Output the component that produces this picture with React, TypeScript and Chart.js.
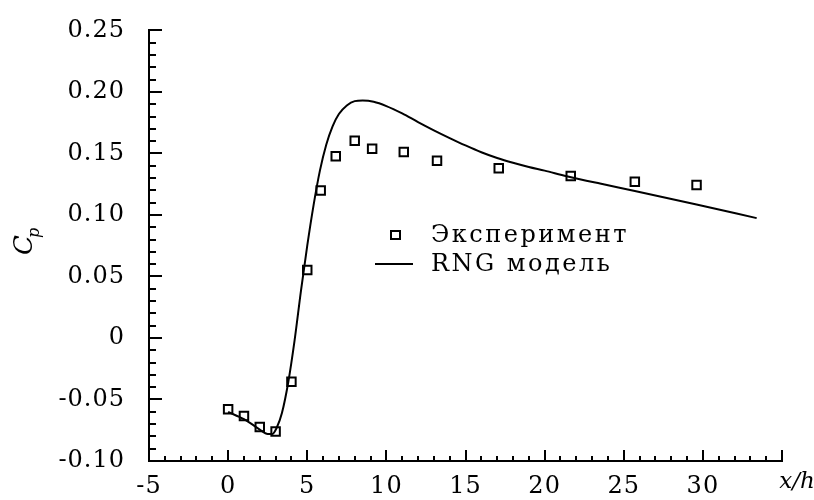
import React, { useEffect, useRef } from 'react';
import { Chart, registerables } from 'chart.js';

Chart.register(...registerables);

// Experimental data (squares)
const expX = [0, 1, 2, 3, 4, 5, 5.85, 6.8, 8.0, 9.1, 11.1, 13.2, 17.1, 21.65, 25.7, 29.6];
const expY = [-0.058, -0.0634, -0.0724, -0.0761, -0.0355, 0.0553, 0.1198, 0.1477, 0.1603, 0.1538, 0.1511, 0.144, 0.138, 0.1317, 0.1269, 0.1243];

// RNG model curve
const rngX = [0, 0.5, 1.0, 1.5, 2.0, 2.5, 2.8, 3.07, 3.4, 3.8, 4.2, 4.6, 5.0, 5.4, 5.8, 6.2, 6.6, 7.0, 7.5, 8.0, 8.5, 9.2, 10.0, 11.0, 12.0, 13.0, 14.0, 15.0, 16.0, 17.0, 18.0, 19.0, 20.0, 21.4, 23.5, 25.7, 29.6, 33.4];
const rngY = [-0.060, -0.063, -0.066, -0.070, -0.0745, -0.078, -0.078, -0.073, -0.061, -0.036, -0.002, 0.038, 0.075, 0.108, 0.136, 0.157, 0.172, 0.182, 0.189, 0.1925, 0.193, 0.192, 0.1885, 0.1825, 0.1755, 0.1688, 0.1625, 0.1565, 0.151, 0.1463, 0.1424, 0.139, 0.136, 0.1315, 0.1255, 0.1195, 0.1085, 0.0974];

// Axis ticks
const xTickValues = [-5, 0, 5, 10, 15, 20, 25, 30];
const xTickLabels = ['-5', '0', '5', '10', '15', '20', '25', '30'];
const yTickValues = [-0.1, -0.05, 0, 0.05, 0.1, 0.15, 0.2, 0.25];
const yTickLabels = ['-0.10', '-0.05', '0', '0.05', '0.10', '0.15', '0.20', '0.25'];

const legendLabels = ['Эксперимент', 'RNG модель'];
const xTitle = 'x/h';
const yTitleMain = 'C';
const yTitleSub = 'p';

const FONT = 'DejaVu Serif';

const inwardTicks = {
  id: 'inwardTicks',
  afterDraw(chart: any) {
    const { ctx, chartArea, scales } = chart;
    const x = scales.x;
    const y = scales.y;
    ctx.save();
    (ctx as any).letterSpacing = '0px';
    ctx.strokeStyle = '#000';
    ctx.lineWidth = 2;
    ctx.beginPath();
    for (let v = x.min; v <= x.max + 1e-9; v += 1) {
      const px = Math.round(x.getPixelForValue(v));
      const major = Math.abs(v % 5) < 1e-9;
      const len = major ? 11 : 5;
      ctx.moveTo(px, chartArea.bottom);
      ctx.lineTo(px, chartArea.bottom - len);
    }
    const n = Math.round((y.max - y.min) / 0.01);
    for (let i = 0; i <= n; i++) {
      const v = y.min + i * 0.01;
      const py = Math.round(y.getPixelForValue(v));
      const len = i % 5 === 0 ? 13 : 7;
      ctx.moveTo(chartArea.left, py);
      ctx.lineTo(chartArea.left + len, py);
    }
    ctx.stroke();

    // axis titles
    ctx.fillStyle = '#000';
    ctx.textBaseline = 'middle';
    ctx.textAlign = 'center';
    ctx.font = `italic 23px ${FONT}`;
    const xr = x.getPixelForValue(x.max);
    ctx.fillText(xTitle, xr + 15, chartArea.bottom + 21);

    ctx.save();
    ctx.translate(25, 245);
    ctx.rotate(-Math.PI / 2);
    ctx.font = `italic 26px ${FONT}`;
    ctx.textAlign = 'left';
    ctx.fillText(yTitleMain, -10, 0);
    ctx.font = `italic 16px ${FONT}`;
    ctx.fillText(yTitleSub, 7, 10);
    ctx.restore();

    // legend
    const ds0 = chart.data.datasets[0];
    const ds1 = chart.data.datasets[1];
    ctx.font = `24px ${FONT}`;
    (ctx as any).letterSpacing = '2.5px';
    ctx.textAlign = 'left';
    ctx.strokeStyle = ds0.borderColor;
    ctx.lineWidth = ds0.borderWidth;
    ctx.strokeRect(391, 231, 9, 8);
    ctx.fillText(legendLabels[0], 431, 236);
    ctx.strokeStyle = ds1.borderColor;
    ctx.lineWidth = ds1.borderWidth;
    ctx.beginPath();
    ctx.moveTo(375, 264);
    ctx.lineTo(413, 264);
    ctx.stroke();
    ctx.fillText(legendLabels[1], 431, 265);
    ctx.restore();
  },
};

const spacing = {
  id: 'spacing',
  beforeDraw(chart: any) {
    (chart.ctx as any).letterSpacing = '1px';
  },
};

export default function App() {
  const ref = useRef<HTMLCanvasElement>(null);
  useEffect(() => {
    if (!ref.current) return;
    const chart = new Chart(ref.current, {
      type: 'scatter',
      data: {
        datasets: [
          {
            label: legendLabels[0],
            data: expX.map((v, i) => ({ x: v, y: expY[i] })),
            pointStyle: 'rect',
            pointRadius: 6,
            borderColor: '#000',
            backgroundColor: 'rgba(0,0,0,0)',
            borderWidth: 2,
            showLine: false,
            order: 0,
          },
          {
            label: legendLabels[1],
            data: rngX.map((v, i) => ({ x: v, y: rngY[i] })),
            showLine: true,
            pointRadius: 0,
            borderColor: '#000',
            borderWidth: 2,
            cubicInterpolationMode: 'monotone',
            fill: false,
            order: 1,
          },
        ],
      },
      options: {
        animation: false,
        responsive: false,
        layout: { padding: { top: 20, right: 32, left: 0, bottom: 0 } },
        plugins: {
          legend: { display: false },
          tooltip: { enabled: false },
        },
        scales: {
          x: {
            type: 'linear',
            min: -5,
            max: 35,
            afterFit: (s: any) => { s.height = 39; },
            grid: { display: false },
            border: { display: true, color: '#000', width: 2 },
            ticks: {
              stepSize: 5,
              padding: 3,
              color: '#000',
              maxRotation: 0,
              font: { family: FONT, size: 24 },
              callback: (v: any) => {
                const i = xTickValues.findIndex((t) => Math.abs(t - v) < 1e-9);
                return i >= 0 ? xTickLabels[i] : '';
              },
            },
          },
          y: {
            type: 'linear',
            min: -0.1,
            max: 0.25,
            afterFit: (s: any) => { s.width = 149; },
            grid: { display: false },
            border: { display: true, color: '#000', width: 2 },
            ticks: {
              stepSize: 0.05,
              padding: 16,
              color: '#000',
              font: { family: FONT, size: 24 },
              callback: (v: any) => {
                const i = yTickValues.findIndex((t) => Math.abs(t - v) < 1e-9);
                return i >= 0 ? yTickLabels[i] : '';
              },
            },
          },
        },
      },
      plugins: [spacing, inwardTicks],
    });
    return () => chart.destroy();
  }, []);
  return (
    <div style={{ position: 'absolute', left: 0, top: 0, width: 814, height: 500, background: '#fff' }}>
      <canvas ref={ref} width={814} height={500} style={{ display: 'block' }} />
    </div>
  );
}
